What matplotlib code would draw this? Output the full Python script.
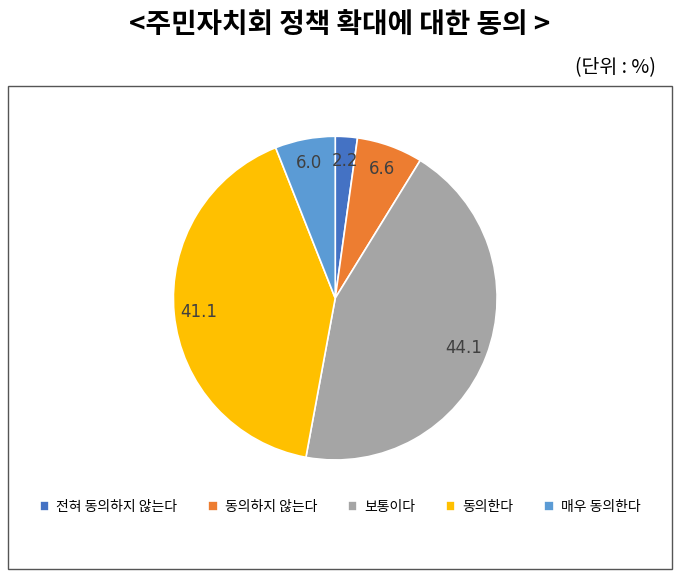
import matplotlib
matplotlib.use("Agg")
import matplotlib.pyplot as plt
from matplotlib.patches import Rectangle

plt.rcParams['font.family'] = 'Noto Sans CJK KR'

categories = ["전혀 동의하지 않는다", "동의하지 않는다", "보통이다", "동의한다", "매우 동의한다"]
values = [2.2, 6.6, 44.1, 41.1, 6.0]
colors = ["#4472C4", "#ED7D31", "#A5A5A5", "#FFC000", "#5B9BD5"]

fig = plt.figure(figsize=(6.8, 5.75), dpi=100)
fig.text(0.5, 0.957, "<주민자치회 정책 확대에 대한 동의 >", ha="center", va="center",
         fontsize=20, fontweight="bold")
fig.text(0.965, 0.882, "(단위 : %)", ha="right", va="center", fontsize=14)
fig.patches.append(Rectangle((0.012, 0.01), 0.976, 0.84, transform=fig.transFigure,
                             fill=False, edgecolor="#555555", linewidth=1))

ax = fig.add_axes([0.255, 0.2, 0.476, 0.563])
wedges, texts = ax.pie(values, colors=colors, startangle=90, counterclock=False,
                       wedgeprops=dict(edgecolor="white", linewidth=1.2),
                       labels=[f"{v:.1f}" for v in values], labeldistance=0.85,
                       textprops=dict(fontsize=12, color="#404040",
                                      family="DejaVu Sans"))
for t in texts:
    t.set_ha("center"); t.set_va("center")
ax.set_xlim(-1, 1); ax.set_ylim(-1, 1)
ax.set_aspect("equal")

fig.legend(wedges, categories, loc="center", bbox_to_anchor=(0.5, 0.118), ncol=5,
           frameon=False, fontsize=10, handlelength=0.7, handleheight=0.7,
           columnspacing=2.2, handletextpad=0.5)
fig.savefig("out.png", dpi=100)
